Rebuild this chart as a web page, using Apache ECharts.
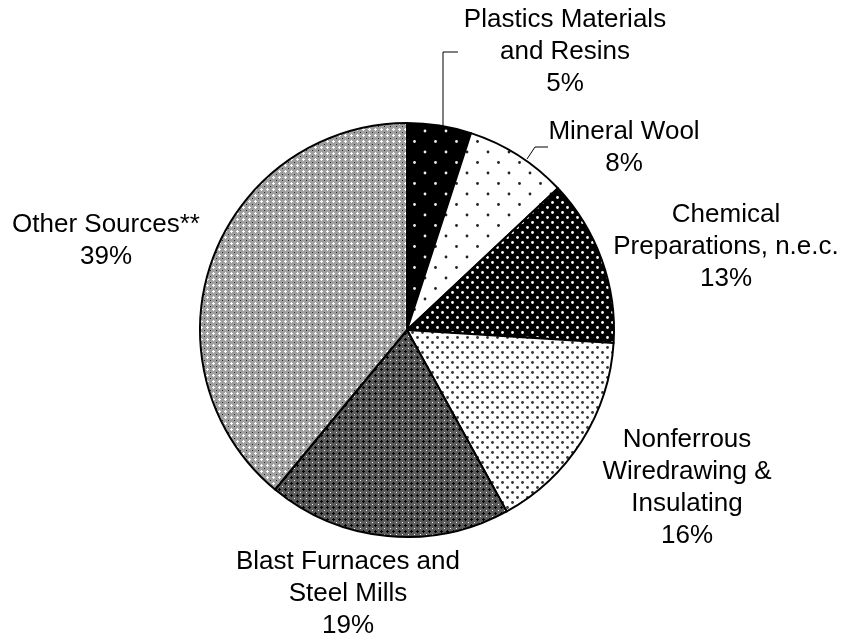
<!DOCTYPE html>
<html>
<head>
<meta charset="utf-8">
<script src="https://cdn.jsdelivr.net/npm/echarts@6/dist/echarts.min.js"></script>
<style>
html, body { margin: 0; background: #fff; }
#main { width: 846px; height: 643px; }
</style>
</head>
<body>
<div id="main"></div>
<script>
var sources = ['Plastics Materials\nand Resins', 'Mineral Wool', 'Chemical\nPreparations, n.e.c.',
    'Nonferrous\nWiredrawing &\nInsulating', 'Blast Furnaces and\nSteel Mills', 'Other Sources**'];
var shares = [5, 8, 13, 16, 19, 39];

// where each label block sits (centre) and leader lines for the two small slices
var labelSpots = [[565, 52], [624, 148], [726, 247], [687, 488], [348, 594], [106, 241]];
var leaders = {
    0: [[443, 126], [443, 52], [458, 52]],
    1: [[527, 159], [535, 147], [548, 147]]
};

function tile(w, h, draw) {
    var c = document.createElement('canvas');
    c.width = w; c.height = h;
    draw(c.getContext('2d'));
    return { image: c, repeat: 'repeat' };
}
function dots(size, bg, fg, pts, r) {
    return tile(size, size, function (ctx) {
        ctx.fillStyle = bg; ctx.fillRect(0, 0, size, size);
        ctx.fillStyle = fg;
        pts.forEach(function (p) {
            ctx.beginPath(); ctx.arc(p[0], p[1], r, 0, Math.PI * 2); ctx.fill();
        });
    });
}
function cross(bg, crossCol, dotCol) {
    return tile(6, 6, function (ctx) {
        ctx.fillStyle = bg; ctx.fillRect(0, 0, 6, 6);
        ctx.fillStyle = crossCol;
        ctx.fillRect(2, 3, 3, 1); ctx.fillRect(3, 2, 1, 3);
        ctx.fillStyle = dotCol;
        ctx.fillRect(0, 0, 1, 1);
    });
}

var fills = [
    dots(21, '#000', '#eee', [[5, 5], [15.5, 15.5]], 1.4),
    dots(21, '#fff', '#222', [[5, 5], [15.5, 15.5]], 1.4),
    dots(10, '#000', '#fff', [[2.5, 2.5], [7.5, 7.5]], 1.4),
    dots(10, '#fff', '#333', [[2.5, 2.5], [7.5, 7.5]], 1.4),
    cross('#5a5a5a', '#000', '#fff'),
    cross('#a0a0a0', '#fff', '#222')
];

var myChart = echarts.init(document.getElementById('main'));

var option = {
    animation: false,
    series: [
        {
            type: 'pie',
            center: [407, 330],
            radius: 207,
            startAngle: 90,
            clockwise: true,
            avoidLabelOverlap: false,
            itemStyle: {
                borderColor: '#000',
                borderWidth: 2
            },
            label: {
                show: true,
                position: 'outside',
                formatter: '{b}\n{c}%',
                color: '#000',
                fontFamily: 'Liberation Sans, Arial, sans-serif',
                fontSize: 26,
                lineHeight: 32,
                align: 'center'
            },
            labelLine: {
                show: false,
                lineStyle: { color: '#000', width: 1 }
            },
            labelLayout: function (p) {
                var s = labelSpots[p.dataIndex];
                var out = { x: s[0], y: s[1], align: 'center', verticalAlign: 'middle', hideOverlap: false };
                if (leaders[p.dataIndex]) out.labelLinePoints = leaders[p.dataIndex];
                return out;
            },
            data: shares.map(function (v, i) {
                return {
                    name: sources[i],
                    value: v,
                    itemStyle: { color: fills[i] },
                    labelLine: { show: !!leaders[i] }
                };
            })
        }
    ]
};
myChart.setOption(option);
</script>
</body>
</html>
